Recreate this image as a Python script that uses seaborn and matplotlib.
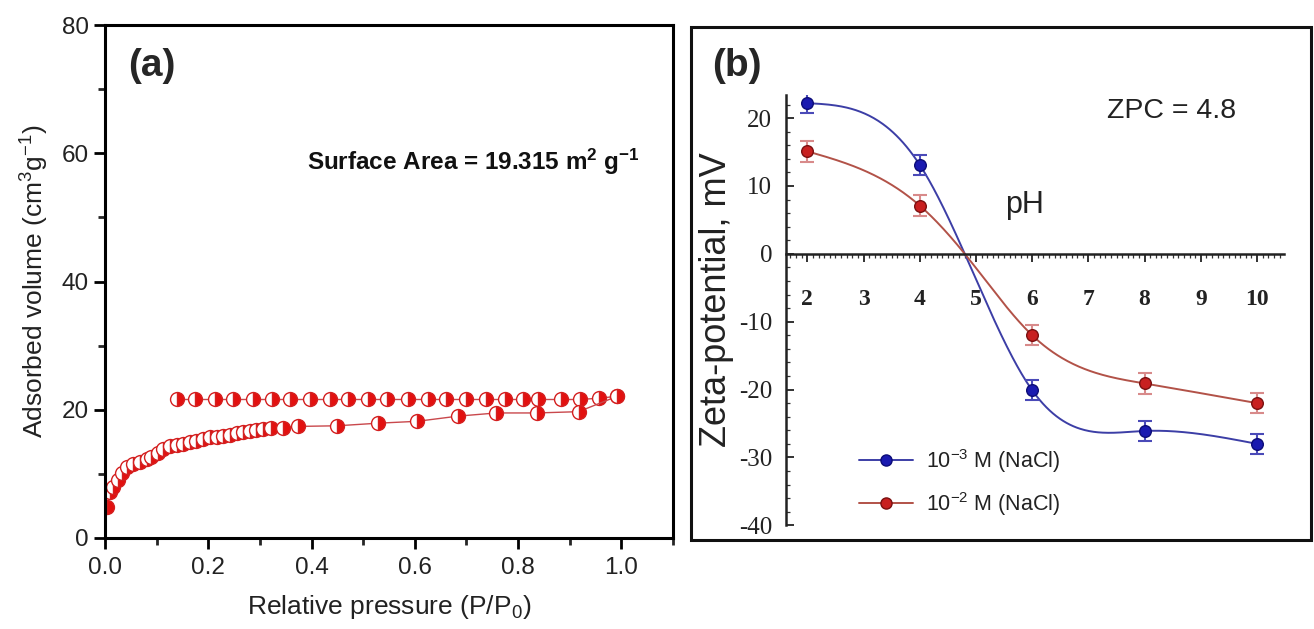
import numpy as np
import pandas as pd
import matplotlib
matplotlib.use("Agg")
import matplotlib.pyplot as plt
import seaborn as sns
from matplotlib.lines import Line2D
from matplotlib.patches import Rectangle
from matplotlib.ticker import MultipleLocator

# ---------------- data ----------------
# (a) N2 isotherm: adsorption branch
ads_p = [0.003, 0.003, 0.010, 0.016, 0.026, 0.032, 0.042, 0.055, 0.068, 0.081,
         0.090, 0.103, 0.113, 0.126, 0.139, 0.151, 0.164, 0.177, 0.190, 0.203,
         0.216, 0.229, 0.242, 0.255, 0.267, 0.280, 0.293, 0.306, 0.322, 0.345,
         0.373, 0.450, 0.528, 0.605, 0.683, 0.758, 0.836, 0.917, 0.992]
ads_v = [3.9, 5.9, 7.2, 8.0, 9.1, 10.1, 11.1, 11.6, 11.9, 12.3,
         12.7, 13.3, 13.9, 14.3, 14.5, 14.7, 14.9, 15.2, 15.4, 15.7,
         15.8, 15.9, 16.1, 16.4, 16.5, 16.7, 16.9, 17.0, 17.1, 17.2,
         17.4, 17.5, 17.9, 18.2, 19.0, 19.5, 19.5, 19.7, 22.1]
# (a) desorption branch
des_p = [0.992, 0.957, 0.919, 0.884, 0.839, 0.810, 0.774, 0.737, 0.700, 0.661,
         0.625, 0.586, 0.547, 0.509, 0.470, 0.435, 0.397, 0.358, 0.323, 0.286,
         0.248, 0.213, 0.174, 0.139]
des_v = [22.1, 21.8, 21.6, 21.6, 21.6, 21.6, 21.6, 21.6, 21.6, 21.6,
         21.6, 21.6, 21.6, 21.6, 21.6, 21.6, 21.6, 21.6, 21.6, 21.6,
         21.6, 21.6, 21.6, 21.6]
surface_area = "19.315"

# (b) zeta potential vs pH
ph = [2, 4, 6, 8, 10]
zeta_1e3 = [22.2, 13.1, -20.1, -26.1, -28.0]
zeta_1e2 = [15.1, 7.1, -12.0, -19.1, -22.0]
zeta_err = [1.5, 1.5, 1.5, 1.5, 1.5]
zpc = 4.8
series_labels = ["10$^{-3}$ M (NaCl)", "10$^{-2}$ M (NaCl)"]

# ---------------- style ----------------
sns.set_style("white")
plt.rcParams["font.family"] = ["Liberation Sans", "DejaVu Sans"]
plt.rcParams["mathtext.fontset"] = "custom"
plt.rcParams["mathtext.rm"] = "Liberation Sans"
plt.rcParams["mathtext.it"] = "Liberation Sans:italic"
plt.rcParams["mathtext.bf"] = "Liberation Sans:bold"
plt.rcParams["axes.unicode_minus"] = False

W, H = 1314, 629
fig = plt.figure(figsize=(W / 100, H / 100), dpi=100)
fig.patch.set_facecolor("white")


def fx(px):
    return px / W


def fy(py):
    return 1 - py / H


def natural_spline(x, y, xs):
    x = np.asarray(x, float)
    y = np.asarray(y, float)
    n = len(x)
    h = np.diff(x)
    A = np.zeros((n, n))
    r = np.zeros(n)
    A[0, 0] = A[-1, -1] = 1.0
    for i in range(1, n - 1):
        A[i, i - 1] = h[i - 1]
        A[i, i] = 2 * (h[i - 1] + h[i])
        A[i, i + 1] = h[i]
        r[i] = 6 * ((y[i + 1] - y[i]) / h[i] - (y[i] - y[i - 1]) / h[i - 1])
    M = np.linalg.solve(A, r)
    idx = np.clip(np.searchsorted(x, xs) - 1, 0, n - 2)
    x0, x1 = x[idx], x[idx + 1]
    hh = x1 - x0
    return (M[idx] * (x1 - xs) ** 3 / (6 * hh) + M[idx + 1] * (xs - x0) ** 3 / (6 * hh)
            + (y[idx] / hh - M[idx] * hh / 6) * (x1 - xs)
            + (y[idx + 1] / hh - M[idx + 1] * hh / 6) * (xs - x0))


# ---------------- panel (a) ----------------
axa = fig.add_axes([fx(105), fy(538), fx(673) - fx(105), fy(25) - fy(538)])
red = "#e3100f"
mk = dict(marker="o", markersize=10, fillstyle="right", markerfacecolor=red,
          markerfacecoloralt="white", markeredgecolor="#d42020", markeredgewidth=1.0)
ads = pd.DataFrame({"p": ads_p, "v": ads_v})
des = pd.DataFrame({"p": des_p, "v": des_v})
sns.lineplot(data=des, x="p", y="v", sort=False, ax=axa, color="#c9484c", lw=1.0, **mk)
sns.lineplot(data=ads, x="p", y="v", sort=False, ax=axa, color="#c9484c", lw=1.0, **mk)

axa.set_xlim(0, 1.1)
axa.set_ylim(0, 80)
axa.xaxis.set_major_locator(MultipleLocator(0.2))
axa.xaxis.set_minor_locator(MultipleLocator(0.1))
axa.yaxis.set_major_locator(MultipleLocator(20))
axa.yaxis.set_minor_locator(MultipleLocator(10))
axa.set_xticklabels([f"{v:.1f}" for v in axa.get_xticks()])
axa.tick_params(which="major", direction="out", length=8, width=2, labelsize=17.5,
                colors="black", labelcolor="#222222", bottom=True, left=True)
axa.tick_params(which="minor", direction="out", length=5, width=2, bottom=True, left=True)
axa.tick_params(axis="x", pad=6)
for s in axa.spines.values():
    s.set_linewidth(2.2)
    s.set_color("black")
axa.set_xlabel("Relative pressure (P/P$_0$)", fontsize=19, color="#222222", labelpad=10)
axa.set_ylabel("Adsorbed volume (cm$^3$g$^{-1}$)", fontsize=19, color="#222222", labelpad=8)

fig.text(fx(128), fy(66), "(a)", fontsize=28, fontweight="bold", va="center", ha="left")
fig.text(fx(307), fy(170), "Surface Area = " + surface_area + r" m$^{\mathbf{2}}$ g$^{\mathbf{-1}}$",
         fontsize=17.5, fontweight="bold", va="baseline", ha="left", color="#111111")

# ---------------- panel (b) ----------------
fig.add_artist(Rectangle((fx(691), fy(540)), fx(1311) - fx(691), fy(27) - fy(540),
                         transform=fig.transFigure, fill=False, lw=2.2, ec="#111111"))

axb = fig.add_axes([fx(786), fy(525.3), fx(1284) - fx(786), fy(95) - fy(525.3)])
axb.set_facecolor("none")
axb.set_xlim(1.62, 10.48)
axb.set_ylim(-40, 23.4)

blue_line, blue_pt, blue_edge, blue_err = "#3c3ea6", "#1a1ab0", "#0c0c78", "#4a4ab8"
red_line, red_pt, red_edge, red_err = "#b25248", "#c82020", "#7a1010", "#d88a8a"

xs = np.linspace(min(ph), max(ph), 400)
for z, lc, pc, ec, erc in [(zeta_1e3, blue_line, blue_pt, blue_edge, blue_err),
                           (zeta_1e2, red_line, red_pt, red_edge, red_err)]:
    kx = ph[:2] + [zpc] + ph[2:]
    ky = z[:2] + [0.0] + z[2:]
    curve = pd.DataFrame({"pH": xs, "zeta": natural_spline(kx, ky, xs)})
    sns.lineplot(data=curve, x="pH", y="zeta", ax=axb, color=lc, lw=1.4, sort=False)
    axb.errorbar(ph, z, yerr=zeta_err, fmt="none", ecolor=erc, elinewidth=1.5,
                 capsize=5, capthick=1.5, zorder=3)
    sns.scatterplot(x=ph, y=z, ax=axb, color=pc, edgecolor=ec, linewidth=1.0,
                    s=70, zorder=4)

axb.spines["top"].set_visible(False)
axb.spines["right"].set_visible(False)
axb.spines["bottom"].set_position(("data", 0))
axb.spines["bottom"].set_linewidth(1.8)
axb.spines["left"].set_linewidth(1.8)
axb.spines["bottom"].set_color("#222222")
axb.spines["left"].set_color("#222222")
axb.xaxis.set_major_locator(MultipleLocator(1))
axb.xaxis.set_minor_locator(MultipleLocator(0.1))
axb.yaxis.set_major_locator(MultipleLocator(10))
axb.yaxis.set_minor_locator(MultipleLocator(2))
axb.set_xticks(range(2, 11))
axb.set_yticks(range(-40, 21, 10))
axb.set_xticklabels([str(v) for v in range(2, 11)], fontfamily="Liberation Serif",
                    fontweight="bold", fontsize=17)
axb.set_yticklabels([str(v) for v in range(-40, 21, 10)], fontfamily="Liberation Serif",
                    fontsize=18)
axb.tick_params(axis="x", which="major", direction="out", length=6, width=1.3,
                pad=19, bottom=True, colors="#222222")
axb.tick_params(axis="x", which="minor", direction="out", length=3, width=0.9, bottom=True,
                colors="#333333")
axb.tick_params(axis="y", which="major", direction="in", length=6, width=1.3, pad=10,
                left=True, colors="#222222")
axb.tick_params(axis="y", which="minor", direction="in", length=3, width=0.9, left=True,
                colors="#333333")
axb.set_xlabel("")
axb.set_ylabel("")

fig.text(fx(716), fy(300), "Zeta-potential, mV", rotation=90, fontsize=26,
         va="center", ha="center", color="#222222")
fig.text(fx(712), fy(66), "(b)", fontsize=28, fontweight="bold", va="center", ha="left")
fig.text(fx(1107), fy(118), "ZPC = " + str(zpc), fontsize=20.5, va="baseline", ha="left",
         color="#222222")
fig.text(fx(1005), fy(213), "pH", fontsize=22, va="baseline", ha="left", color="#222222")

handles = [Line2D([], [], color=blue_line, lw=1.4, marker="o", markersize=8,
                  markerfacecolor=blue_pt, markeredgecolor=blue_edge),
           Line2D([], [], color=red_line, lw=1.4, marker="o", markersize=8,
                  markerfacecolor=red_pt, markeredgecolor=red_edge)]
fig.legend(handles, series_labels, loc="upper left", bbox_to_anchor=(fx(848), fy(436)),
           bbox_transform=fig.transFigure, frameon=False, fontsize=15.5, borderpad=0,
           handlelength=2.5, handletextpad=0.6, labelspacing=0.7, labelcolor="#222222")

fig.savefig("out.png", dpi=100, facecolor="white")
